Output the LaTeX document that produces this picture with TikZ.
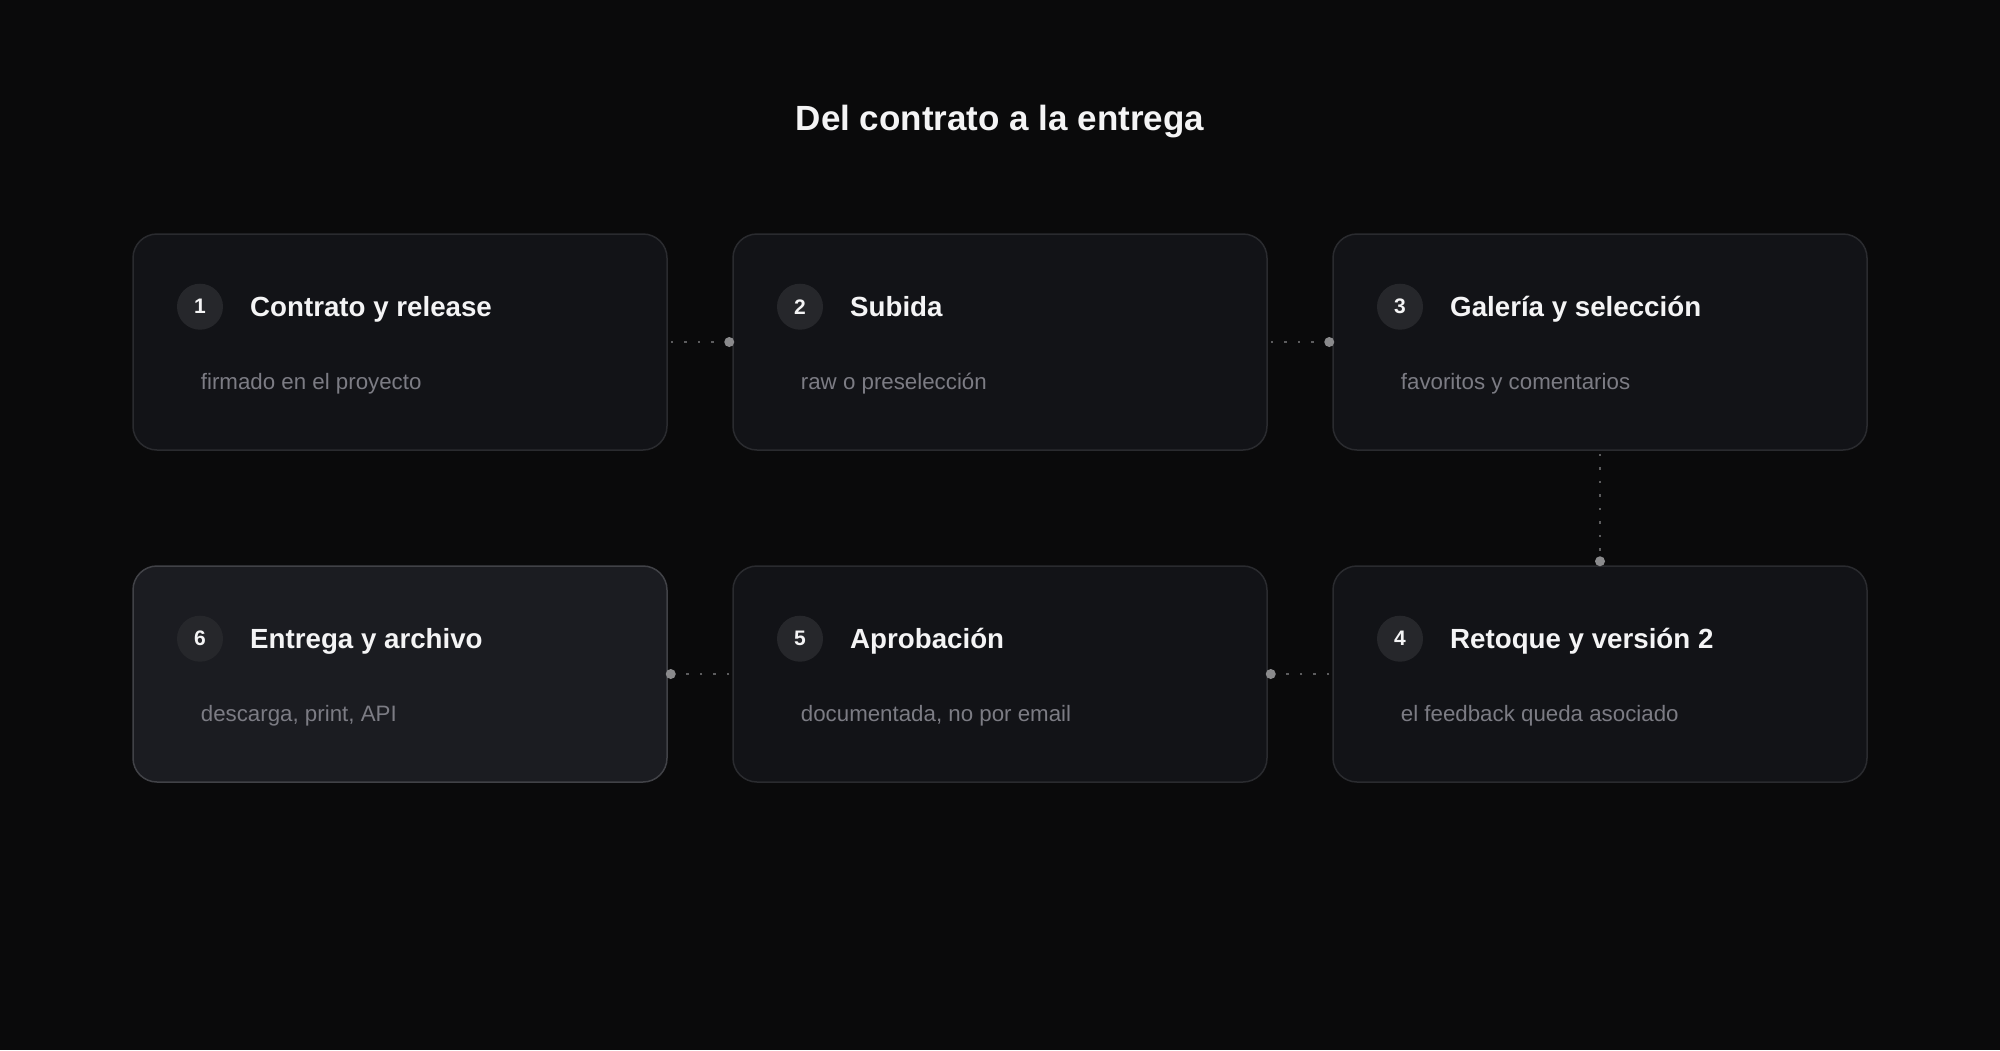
\documentclass[tikz,border=0pt]{standalone}
\usepackage{fontspec}
\setmainfont{Liberation Sans}
\definecolor{bgc}{HTML}{0A0A0B}
\definecolor{boxfill}{HTML}{121317}
\definecolor{boxline}{HTML}{2A2B2F}
\definecolor{hifill}{HTML}{1B1C21}
\definecolor{hiline}{HTML}{414247}
\definecolor{numfill}{HTML}{26272B}
\definecolor{titlec}{HTML}{F4F4F5}
\definecolor{subc}{HTML}{7C7C84}
\definecolor{dotc}{HTML}{5C5C5E}
\definecolor{bigdot}{HTML}{8A8A8C}
\tikzset{
  card/.style={draw=boxline, fill=boxfill, line width=1.5pt, rounded corners=24pt,
    minimum width=534pt, minimum height=216pt, inner sep=0pt},
  hicard/.style={card, draw=hiline, fill=hifill},
  numc/.style={circle, fill=numfill, minimum size=46pt, inner sep=0pt,
    text=titlec, font=\fontsize{21}{24}\selectfont\bfseries},
  ctitle/.style={anchor=base west, inner sep=0pt, text=titlec,
    font=\fontsize{27.7}{32}\selectfont\bfseries},
  csub/.style={anchor=base west, inner sep=0pt, text=subc,
    font=\fontsize{22.3}{26}\selectfont},
  dotline/.style={draw=dotc, line width=2.6pt, dash pattern=on 2.6pt off 10.9pt},
  enddot/.style={circle, fill=bigdot, minimum size=10pt, inner sep=0pt},
}
\begin{document}
\begin{tikzpicture}[x=1pt,y=-1pt]
\fill[bgc] (0,0) rectangle (2000,1050);
\useasboundingbox (0,0) rectangle (2000,1050);

\node[anchor=base, inner sep=0pt, text=titlec, font=\fontsize{35}{42}\selectfont\bfseries]
  (title) at (1000,130) {Del contrato a la entrega};

% cards
\node[card]   (b1) at (400,342)  {};
\node[card]   (b2) at (1000,342) {};
\node[card]   (b3) at (1600,342) {};
\node[card]   (b4) at (1600,674) {};
\node[card]   (b5) at (1000,674) {};
\node[hicard] (b6) at (400,674)  {};

% connectors
\draw[dotline] ([xshift=3pt]b1.east) -- (b2.west);
\draw[dotline] ([xshift=3pt]b2.east) -- (b3.west);
\draw[dotline] ([yshift=-3pt]b3.south) -- (b4.north);
\draw[dotline] ([xshift=-3pt]b4.west) -- (b5.east);
\draw[dotline] ([xshift=-3pt]b5.west) -- (b6.east);
\node[enddot] (d12) at ([xshift=-3pt]b2.west) {};
\node[enddot] (d23) at ([xshift=-3pt]b3.west) {};
\node[enddot] (d34) at ([yshift=4pt]b4.north) {};
\node[enddot] (d45) at ([xshift=3pt]b5.east) {};
\node[enddot] (d56) at ([xshift=3pt]b6.east) {};

% card contents
\foreach \b/\n/\t/\s in {b1/1/Contrato y release/firmado en el proyecto,
                         b2/2/Subida/raw o preselección,
                         b3/3/Galería y selección/favoritos y comentarios,
                         b4/4/Retoque y versión 2/el feedback queda asociado,
                         b5/5/Aprobación/{documentada, no por email},
                         b6/6/Entrega y archivo/{descarga, print, API}} {
  \node[numc] (\b n) at ([xshift=-200pt,yshift=35.3pt]\b.center) {\n};
  \node[ctitle] (\b t) at ([xshift=-150pt,yshift=26pt]\b.center) {\t};
  \node[csub] (\b s) at ([xshift=-199.3pt,yshift=-47pt]\b.center) {\s};
}
\end{tikzpicture}
\end{document}
